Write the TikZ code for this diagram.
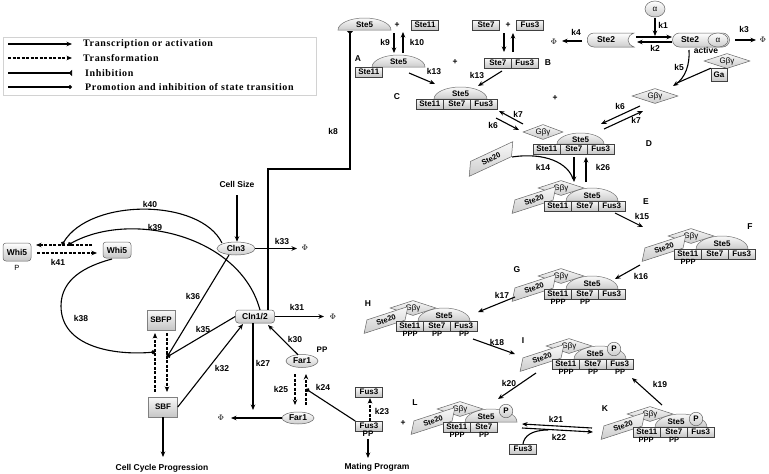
\documentclass[tikz,border=0pt]{standalone}
\usepackage{fontspec}
\setmainfont{Liberation Serif}
\setsansfont{Liberation Sans}
\newfontfamily\legfont[LetterSpace=6]{Liberation Serif}
\usetikzlibrary{shapes.geometric,arrows.meta}
\tikzset{
 lab/.style={font=\sffamily\bfseries\fontsize{8.5}{9}\selectfont, inner sep=0.5},
 bxs/.style={draw=black!75, line width=0.5pt, top color=gray!5, bottom color=gray!45, minimum width=27, minimum height=9.5, inner sep=0, font=\sffamily\bfseries\fontsize{8}{8}\selectfont},
 domes/.style={draw=black!55, line width=0.5pt, top color=gray!5, bottom color=gray!40},
 dtxt/.style={font=\sffamily\bfseries\fontsize{8}{8}\selectfont, inner sep=0},
 gbg/.style={diamond, aspect=3.2, draw=black!60, line width=0.5pt, top color=gray!5, bottom color=gray!40, minimum width=46, minimum height=15, inner sep=0, font=\sffamily\fontsize{8}{8}\selectfont},
 ste20/.style={trapezium, trapezium left angle=60, trapezium right angle=120, rotate=18, draw=black!60, line width=0.5pt, top color=gray!5, bottom color=gray!40, minimum width=44, minimum height=12, inner sep=1, font=\sffamily\bfseries\fontsize{7.5}{8}\selectfont},
 pc/.style={circle, draw=black!60, line width=0.5pt, top color=gray!5, bottom color=gray!40, minimum size=13.5, inner sep=0, font=\sffamily\bfseries\fontsize{8}{8}\selectfont},
 ppt/.style={font=\sffamily\bfseries\fontsize{7.5}{7.5}\selectfont, inner sep=0},
 rbox/.style={rounded corners=3, draw=black!60, line width=0.5pt, top color=white, bottom color=gray!45, font=\sffamily\bfseries\fontsize{8.5}{9}\selectfont, inner sep=1},
 ell/.style={ellipse, draw=black!60, line width=0.5pt, top color=white, bottom color=gray!40, inner sep=0, font=\sffamily\bfseries\fontsize{8.5}{9}\selectfont},
 act/.style={line width=1.1pt, -{Stealth[length=5.5pt,width=4.5pt]}},
 trans/.style={act, dash pattern=on 3pt off 1.5pt},
 inh/.style={line width=1.1pt, -{Triangle[reversed,length=3pt,width=6pt]}},
 prom/.style={line width=1.1pt, -{Circle[length=4pt]}},
 phis/.style={font=\fontsize{8}{8}\selectfont, inner sep=0},
 legt/.style={font=\legfont\bfseries\fontsize{10}{11}\selectfont, inner sep=0, anchor=west},
}
\newcommand\karr[4][act]{\coordinate (#2a) at (#3); \coordinate (#2b) at (#4); \draw[#1] (#2a) -- (#2b);}
\newcommand\domeS[6]{%
 \path[domes] ({#2},{#4}) .. controls ({#2},{(#4)-0.55*(#5)}) and ({0.5*((#2)+(#3))-0.276*((#3)-(#2))},{(#4)-(#5)}) .. ({0.5*((#2)+(#3))},{(#4)-(#5)}) .. controls ({0.5*((#2)+(#3))+0.276*((#3)-(#2))},{(#4)-(#5)}) and ({#3},{(#4)-0.55*(#5)}) .. ({#3},{#4}) -- cycle;
 \node[dtxt] (#1) at ({0.5*((#2)+(#3))+(#6)},{(#4)-0.42*(#5)}) {Ste5};}
\newcommand\trio[3]{%
 \node[bxs,anchor=north west] (#1a) at ({#2},{#3}) {Ste11};
 \node[bxs,anchor=north west] (#1b) at ({(#2)+27},{#3}) {Ste7};
 \node[bxs,anchor=north west] (#1c) at ({(#2)+54},{#3}) {Fus3};}
\newcommand\cbase[4]{%
 \domeS{#1s}{(#2)+22}{(#2)+74}{#3}{13}{#4}
 \node[gbg] (#1g) at ({(#2)+17},{(#3)-13}) {Gβγ};
 \node[ste20] (#1t) at ({(#2)-10},{(#3)-1}) {Ste20};}
\begin{document}
\begin{tikzpicture}[x=1pt,y=-1pt]
\fill[white] (0,0) rectangle (769,474);
\useasboundingbox (0,0) rectangle (769,474);

% ---------- legend
\node[draw=gray!35, line width=0.5pt, minimum width=313pt, minimum height=58pt, anchor=north west, inner sep=0] (legend) at (3,37) {};
\karr{leg1}{8,44}{72,44}
\karr[trans]{leg2}{8,58}{72,58}
\karr[inh]{leg3}{8,73}{72,73}
\karr[prom]{leg4}{8,87}{72,87}
\node[legt] (lt1) at (83,44) {Transcription or activation};
\node[legt] (lt2) at (83,58) {Transformation};
\node[legt] (lt3) at (85,73) {Inhibition};
\node[legt] (lt4) at (85,87) {Promotion and inhibition of state transition};

% ---------- top row
\domeS{ste5top}{338}{391}{30}{12}{0}
\node[lab] (plus1) at (397,25) {+};
\node[bxs] (s11top) at (425,25) {Ste11};
\node[bxs] (s7top) at (486,25) {Ste7};
\node[lab] (plus2) at (508,25) {+};
\node[bxs] (f3top) at (530,25) {Fus3};
\karr{k9}{394,33}{394,53}
\karr{k10}{403,53}{403,32}
\node[lab] (lk9) at (385,42) {k9};
\node[lab] (lk10) at (417,42) {k10};
\karr{kb1}{504,33}{504,52}
\karr{kb2}{513,52}{513,33}

% A and B
\domeS{ste5A}{372}{425}{67}{12}{0}
\node[bxs,anchor=north west] (s11A) at (355,67) {Ste11};
\node[lab] (lA) at (358,59) {A};
\node[lab] (plusAB) at (455,62) {+};
\node[bxs,anchor=north west] (s7B) at (484,58) {Ste7};
\node[bxs,anchor=north west] (f3B) at (511,58) {Fus3};
\node[lab] (lB) at (548,63) {B};
\karr{k13a}{409,73}{435,84}
\karr{k13b}{502,71}{478,86}
\node[lab] (lk13a) at (434,71) {k13};
\node[lab] (lk13b) at (477,75) {k13};

% C
\domeS{ste5C}{434}{487}{99}{12}{0}
\trio{C}{416}{99}
\node[lab] (lC) at (397,97) {C};
\karr{k7L}{523,124}{499,111}
\karr{k6L}{496,118}{519,130}
\node[lab] (lk7L) at (518,114) {k7};
\node[lab] (lk6L) at (493,125) {k6};
\node[lab] (plusCG) at (555,98) {+};

% Ste2 receptor part
\node[ell, minimum width=20, minimum height=16, font=\sffamily\fontsize{8}{8}\selectfont] (alpha1) at (655,9) {α};
\karr{k1}{655,18}{655,36}
\node[lab] (lk1) at (663,25) {k1};
\path[draw=black!60, line width=0.5pt, top color=white, bottom color=gray!40] (594,33) -- (634,33) .. controls (626,36) and (626,44) .. (634,47) -- (594,47) .. controls (585,47) and (585,33) .. (594,33) -- cycle;
\node[lab] (ste2i) at (606,40) {Ste2};
\node[draw=black!60, line width=0.5pt, rounded corners=7, top color=white, bottom color=gray!40, minimum width=57, minimum height=14, inner sep=0] (ste2a) at (701,40) {};
\node[lab] (ste2at) at (690,40) {Ste2};
\node[ell, minimum width=20, minimum height=14, font=\sffamily\fontsize{8}{8}\selectfont] (alpha2) at (718,40) {α};
\node[lab] (active) at (706,50) {active};
\karr{k2f}{636,37}{672,37}
\karr{k2r}{672,42}{637,42}
\node[lab] (lk2) at (655,48) {k2};
\karr{k3}{735,40}{756,40}
\node[phis] (phi3) at (763,40) {$\Phi$};
\node[lab] (lk3) at (744,29) {k3};
\karr{k4}{582,41}{562,41}
\node[phis] (phi4) at (554,42) {$\Phi$};
\node[lab] (lk4) at (576,32) {k4};
\node[gbg] (gbgGa) at (727,61) {Gβγ};
\node[bxs, minimum width=16, minimum height=13] (ga) at (719,75) {Ga};
\coordinate (k5e) at (673,86);
\draw[act] (689,50) .. controls (690,65) and (685,78) .. (k5e);
\draw[line width=1.1pt] (ga.north west) -- (677,83);
\node[lab] (lk5) at (679,67) {k5};
\node[gbg] (gbgF) at (655,96) {Gβγ};
\karr{k6R}{640,106}{601,124}
\karr{k7R}{604,129}{643,111}
\node[lab] (lk6R) at (620,106) {k6};
\node[lab] (lk7R) at (636,120) {k7};

% D
\domeS{ste5D}{557}{604}{144}{11}{0}
\node[gbg, minimum width=40] (Dg) at (543,132) {Gβγ};
\trio{D}{533}{144}
\node[lab] (lD) at (649,144) {D};
\node[ste20, rotate=7, minimum width=48, minimum height=13] (ste20free) at (491,159) {Ste20};
\karr{k14}{574,157}{574,182}
\draw[line width=1.1pt] (512,157) .. controls (545,152) and (568,163) .. (573,179);
\karr{k26}{586,182}{586,157}
\node[lab] (lk14) at (543,167) {k14};
\node[lab] (lk26) at (603,167) {k26};

% E
\cbase{E}{544}{201}{0}
\trio{E}{544}{201}
\node[lab] (lE) at (646,202) {E};
\karr{k15}{615,213}{643,227}
\node[lab] (lk15) at (642,216) {k15};

% F
\cbase{F}{674}{249}{0}
\trio{F}{674}{249}
\node[ppt] (Fp1) at (688,262) {PPP};
\node[lab] (lF) at (750,227) {F};
\karr{k16}{640,265}{615,279}
\node[lab] (lk16) at (641,276) {k16};

% G
\cbase{G}{544}{289}{0}
\trio{G}{544}{289}
\node[ppt] (Gp1) at (558,302) {PPP};
\node[ppt] (Gp2) at (585,302) {PP};
\node[lab] (lG) at (517,270) {G};
\karr{k17}{515,297}{478,312}
\node[lab] (lk17) at (502,295) {k17};

% H
\cbase{H}{396}{321}{0}
\trio{H}{396}{321}
\node[ppt] (Hp1) at (410,334) {PPP};
\node[ppt] (Hp2) at (437,334) {PP};
\node[ppt] (Hp3) at (464,334) {PP};
\node[lab] (lH) at (368,304) {H};
\karr{k18}{473,339}{515,354}
\node[lab] (lk18) at (497,342) {k18};
\node[lab] (lI) at (523,341) {I};

% I
\cbase{I}{552}{359}{-5}
\node[pc] (IP) at (614,349) {P};
\trio{I}{552}{359}
\node[ppt] (Ip1) at (566,372) {PPP};
\node[ppt] (Ip2) at (593,372) {PP};
\node[ppt] (Ip3) at (620,372) {PP};
\karr{k20}{536,373}{498,399}
\node[lab] (lk20) at (509,383) {k20};
\karr{k19}{662,405}{632,378}
\node[lab] (lk19) at (660,384) {k19};

% L
\cbase{L}{443}{422}{-5}
\node[pc] (LP) at (506,411) {P};
\node[bxs,anchor=north west] (La) at (443,422) {Ste11};
\node[bxs,anchor=north west] (Lb) at (470,422) {Ste7};
\node[ppt] (Lp1) at (457,435) {PPP};
\node[ppt] (Lp2) at (484,435) {PP};
\node[lab] (lL) at (415,403) {L};
\node[lab] (plusL) at (403,423) {+};
\karr{k21}{592,428}{522,424}
\karr{k22}{522,428}{593,432}
\node[lab] (lk21) at (556,419) {k21};
\node[lab] (lk22) at (559,437) {k22};
\node[bxs] (fus3L) at (523,449) {Fus3};
\draw[line width=1.1pt] (fus3L.north) .. controls (524,436) and (532,430) .. (548,430);

% K
\cbase{K}{633}{427}{-5}
\node[pc] (KP) at (696,419) {P};
\trio{K}{633}{427}
\node[ppt] (Kp1) at (646,440) {PPP};
\node[ppt] (Kp2) at (674,440) {PP};
\node[lab] (lK) at (605,409) {K};

% ---------- left part
\node[lab] (cellsize) at (237,184) {Cell Size};
\node[ell, minimum width=38, minimum height=13] (cln3) at (236,248.5) {Cln3};
\draw[act] (cellsize.south |- 0,195) -- (cellsize.south |- cln3.north);
\node[phis] (phi33) at (305,248) {$\Phi$};
\draw[act] (cln3.east) -- (297,248.5);
\node[lab] (lk33) at (282,241) {k33};

\node[rbox, minimum width=28, minimum height=18] (whi5p) at (17,252) {Whi5};
\node[ppt, font=\sffamily\fontsize{7.5}{8}\selectfont] (whiP) at (17,268) {P};
\node[rbox, minimum width=28, minimum height=16] (whi5) at (117,250) {Whi5};
\karr[trans]{k41u}{92,245}{36,245}
\karr[trans]{k41d}{37,253}{97,253}
\node[lab] (lk41) at (58,262) {k41};
\coordinate (k40e) at (62,245);
\draw[prom] (222,243) .. controls (200,198) and (90,198) .. (k40e);
\node[lab] (lk40) at (150,204) {k40};
\coordinate (k39e) at (68,245);
\node[draw=black!60, line width=0.5pt, rounded corners=3, top color=white, bottom color=gray!45, font=\sffamily\bfseries\fontsize{8.5}{9}\selectfont, minimum width=39, minimum height=13, inner sep=0] (cln12) at (255,316.5) {Cln1/2};
\draw[prom] (260,310) .. controls (240,235) and (130,210) .. (k39e);
\node[lab] (lk39) at (155,227) {k39};

% k8
\coordinate (k8c1) at (268,169);
\coordinate (k8c2) at (350,169);
\coordinate (k8e) at (350,31);
\draw[inh, line join=miter] (cln12.north -| k8c1) -- (k8c1) -- (k8c2) -- (k8e);
\node[lab] (lk8) at (333,131) {k8};

\node[bxs, minimum width=28, minimum height=20, draw=black!50] (sbfp) at (161,320) {SBFP};
\node[bxs, minimum width=29, minimum height=20, draw=black!50] (sbf) at (163,407) {SBF};
\karr[trans]{sbfup}{155,392}{155,333}
\karr[trans]{sbfdn}{167,333}{167,392}
\coordinate (k38e) at (155,352);
\draw[prom] (112,259) to[out=195,in=90] (61,306) to[out=-90,in=185] (k38e);
\node[lab] (lk38) at (81,318) {k38};
\coordinate (k35e) at (167,357);
\draw[prom] (cln12.west) -- (k35e);
\draw[prom] (229,255) -- (k35e);
\node[lab] (lk36) at (193,296) {k36};
\node[lab] (lk35) at (203,329) {k35};
\draw[act] (sbf.east) -- (243,324);
\node[lab] (lk32) at (222,368) {k32};
\node[lab] (ccp) at (162,468) {Cell Cycle Progression};
\draw[act] (sbf.south) -- (163,457);

\node[phis] (phi31) at (333,316.5) {$\Phi$};
\draw[act] (cln12.east) -- (324,316.5);
\node[lab] (lk31) at (297,307) {k31};
\coordinate (k27a) at (253,323);
\coordinate (k27b) at (253,410);
\draw[act] (k27a) -- (k27b);
\node[lab] (lk27) at (263,363) {k27};
\node[ell, minimum width=32, minimum height=13] (far1a) at (302,361) {Far1};
\node[ppt, font=\sffamily\bfseries\fontsize{8}{8}\selectfont] (far1pp) at (322,350) {PP};
\node[ell, minimum width=32, minimum height=12] (far1b) at (298,418) {Far1};
\node[phis] (phiF) at (221,418) {$\Phi$};
\draw[act] (far1b.west) -- (231,418);
\coordinate (k30e) at (268,325);
\draw[act] (far1a.north) ++(-4,0.5) -- (k30e);
\node[lab] (lk30) at (295,339) {k30};
\karr[trans]{k25}{295,374}{295,405}
\karr[trans]{k24}{306,405}{306,374}
\node[lab] (lk25) at (281,389) {k25};
\node[lab] (lk24) at (323,387) {k24};
\node[bxs] (fus3a) at (369,392) {Fus3};
\node[bxs] (fus3b) at (369,426) {Fus3};
\node[ppt, font=\sffamily\bfseries\fontsize{8}{8}\selectfont] (fus3pp) at (368,434) {PP};
\draw[trans] (fus3b.north -| 370,0) -- (370,398);
\node[lab] (lk23) at (382,411) {k23};
\coordinate (k24d) at (306,389);
\draw[prom] (fus3b.north west) -- (k24d);
\node[lab] (mating) at (377,467) {Mating Program};
\draw[act] (368,439) -- (368,458);
\end{tikzpicture}
\end{document}
